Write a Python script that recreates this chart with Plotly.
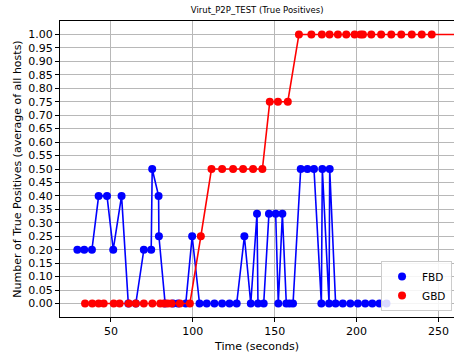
import plotly.graph_objects as go

# FBD (blue) series
fbd_time = [29.5, 33.7, 38.4, 42.5, 47.6, 51.4, 56.5, 60.6, 65.2, 70.1, 74.6, 75.2,
            79.1, 79.3, 83.1, 88.0, 91.0, 95.7, 99.6, 104.1, 108.5, 113.2, 117.9,
            122.4, 126.8, 131.5, 135.4, 139.2, 139.8, 143.3, 146.5, 150.6, 152.2,
            154.7, 157.1, 159.1, 161.2, 165.9, 170.0, 174.0, 178.5, 179.1, 183.2,
            183.6, 187.2, 191.6, 196.2, 200.8, 205.3, 209.6, 214.0, 218.3]
fbd_value = [0.2, 0.2, 0.2, 0.4, 0.4, 0.2, 0.4, 0.0, 0.0, 0.2, 0.2, 0.5,
             0.4, 0.25, 0.0, 0.0, 0.0, 0.0, 0.25, 0.0, 0.0, 0.0, 0.0,
             0.0, 0.0, 0.25, 0.0, 1/3, 0.0, 0.0, 1/3, 1/3, 0.0,
             1/3, 0.0, 0.0, 0.0, 0.5, 0.5, 0.5, 0.0, 0.5, 0.0,
             0.5, 0.0, 0.0, 0.0, 0.0, 0.0, 0.0, 0.0, 0.0]

# GBD (red) series
gbd_time = [34.2, 38.6, 42.5, 45.6, 51.7, 55.3, 60.9, 65.2, 70.1, 75.3, 80.1, 82.4,
            84.7, 87.0, 92.1, 98.2, 104.9, 111.4, 117.9, 124.6, 130.7, 136.8, 142.5,
            147.0, 152.0, 158.0, 164.8, 172.4, 178.8, 183.5, 188.6, 193.7, 198.8,
            202.4, 203.9, 209.0, 215.0, 221.2, 227.3, 233.7, 239.8, 245.9, 265.0]
gbd_value = [0.0] * 16 + [0.25] + [0.5] * 6 + [0.75] * 3 + [1.0] * 17

x_ticks = [50, 100, 150, 200, 250]
y_ticks = [i * 0.05 for i in range(21)]

FONT = "DejaVu Sans"

fig = go.Figure()
fig.add_trace(go.Scatter(x=fbd_time, y=fbd_value, mode="lines+markers",
                         line=dict(color="#0000ff", width=1.6),
                         marker=dict(color="#0000ff", size=8),
                         showlegend=False, cliponaxis=True))
fig.add_trace(go.Scatter(x=gbd_time, y=gbd_value, mode="lines+markers",
                         line=dict(color="#ff0000", width=1.6),
                         marker=dict(color="#ff0000", size=8),
                         showlegend=False, cliponaxis=True))
fig.add_trace(go.Scatter(x=[None], y=[None], mode="markers", name="FBD",
                         marker=dict(color="#0000ff", size=8)))
fig.add_trace(go.Scatter(x=[None], y=[None], mode="markers", name="GBD",
                         marker=dict(color="#ff0000", size=8)))

fig.update_layout(
    width=454, height=358,
    margin=dict(l=60, r=0, t=20.5, b=40.5),
    paper_bgcolor="white", plot_bgcolor="white",
    font=dict(family=FONT, color="black", size=11),
    title=dict(text="Virut_P2P_TEST (True Positives)", x=0.5665, xanchor="center",
               y=0.972, yanchor="middle", font=dict(size=8.5)),
    legend=dict(x=0.995, xanchor="right", y=0.02, yanchor="bottom",
                bgcolor="rgba(255,255,255,0.85)", bordercolor="#cccccc", borderwidth=1,
                font=dict(size=10.5), itemwidth=30, tracegroupgap=0),
)
fig.update_xaxes(range=[18.9, 259.5], tickvals=x_ticks, ticks="outside", ticklen=4,
                 tickcolor="black", showline=True, linecolor="black", linewidth=1,
                 mirror=True, showgrid=True, gridcolor="#b8b8b8", gridwidth=1,
                 zeroline=False,
                 title=dict(text="Time (seconds)", standoff=5, font=dict(size=11)),
                 tickfont=dict(size=11))
fig.update_yaxes(range=[-0.05, 1.05], tickvals=y_ticks, tickformat=".2f",
                 ticks="outside", ticklen=4, tickcolor="black", showline=True,
                 linecolor="black", linewidth=1, mirror=False, showgrid=True,
                 gridcolor="#b8b8b8", gridwidth=1, zeroline=False,
                 title=dict(text="Number of True Positives (average of all hosts)",
                            standoff=4, font=dict(size=11)),
                 tickfont=dict(size=11))

fig.write_html("out.html")
